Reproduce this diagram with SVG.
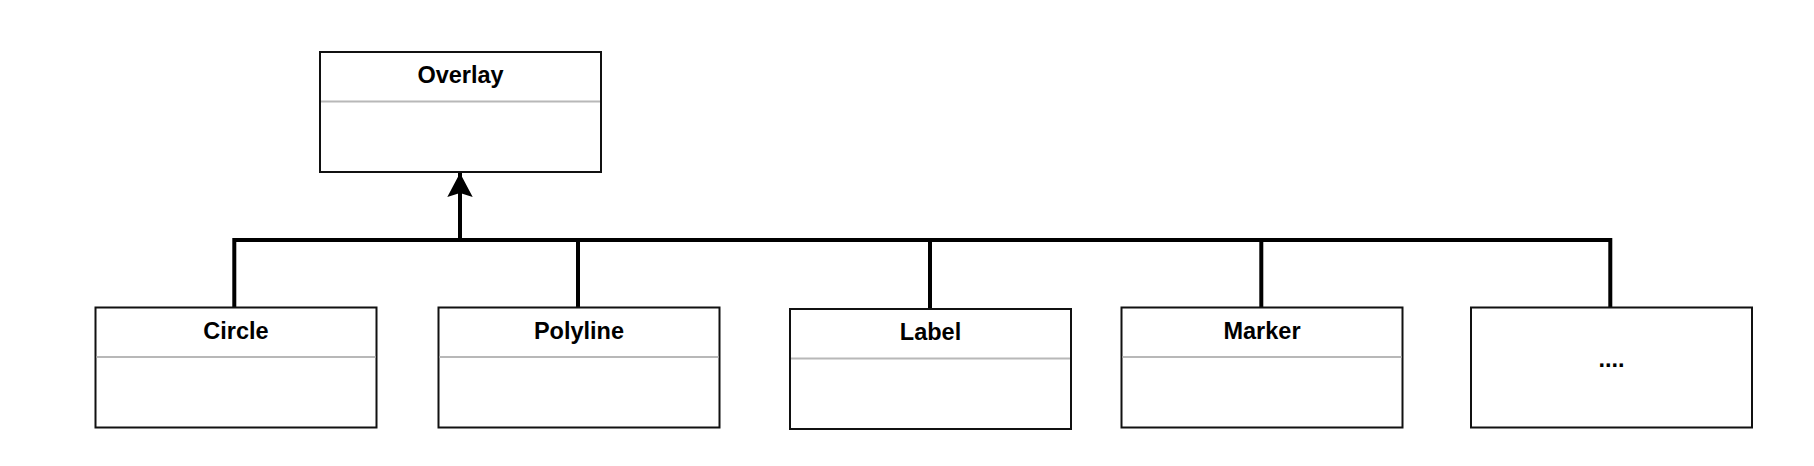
<svg xmlns="http://www.w3.org/2000/svg" width="1814" height="466" viewBox="0 0 1814 466">
<style>
.box{fill:#fff;stroke:#111;stroke-width:2}
.sep{stroke:#b8b8b8;stroke-width:2}
.t{font-family:"Liberation Sans",Arial,sans-serif;font-weight:bold;font-size:23.5px;fill:#000;text-anchor:middle}
.c{fill:none;stroke:#000;stroke-width:4}
</style>
<defs>
<marker id="arr" markerUnits="userSpaceOnUse" markerWidth="30" markerHeight="30" viewBox="0 0 30 30" refX="24" refY="13" orient="auto">
<path d="M0,0.3 L24,13 L0,25.7 L4,13 Z" fill="#000"/>
</marker>
</defs>
<rect width="1814" height="466" fill="#fff"/>
<g id="connectors">
<path class="c" d="M234.3,307 V240 H1610.3 V307"/>
<path class="c" d="M578,240 V307"/>
<path class="c" d="M930,240 V308.5"/>
<path class="c" d="M1261.3,240 V307"/>
<path class="c" d="M460,240 V173" marker-end="url(#arr)"/>
</g>
<g id="overlay">
<rect class="box" x="320" y="52" width="281" height="120"/>
<line class="sep" x1="321" y1="101.5" x2="600" y2="101.5"/>
<text class="t" x="460.5" y="82.7">Overlay</text>
</g>
<g id="circle">
<rect class="box" x="95.5" y="307.5" width="281" height="120"/>
<line class="sep" x1="96.5" y1="357" x2="375.5" y2="357"/>
<text class="t" x="236" y="338.5">Circle</text>
</g>
<g id="polyline">
<rect class="box" x="438.5" y="307.5" width="281" height="120"/>
<line class="sep" x1="439.5" y1="357" x2="718.5" y2="357"/>
<text class="t" x="579" y="338.5">Polyline</text>
</g>
<g id="label">
<rect class="box" x="790" y="309" width="281" height="120"/>
<line class="sep" x1="791" y1="358.5" x2="1070" y2="358.5"/>
<text class="t" x="930.5" y="340">Label</text>
</g>
<g id="marker">
<rect class="box" x="1121.5" y="307.5" width="281" height="120"/>
<line class="sep" x1="1122.5" y1="357" x2="1401.5" y2="357"/>
<text class="t" x="1262" y="338.5">Marker</text>
</g>
<g id="more">
<rect class="box" x="1471" y="307.5" width="281" height="120"/>
<text class="t" x="1611.5" y="366.7">....</text>
</g>
</svg>
